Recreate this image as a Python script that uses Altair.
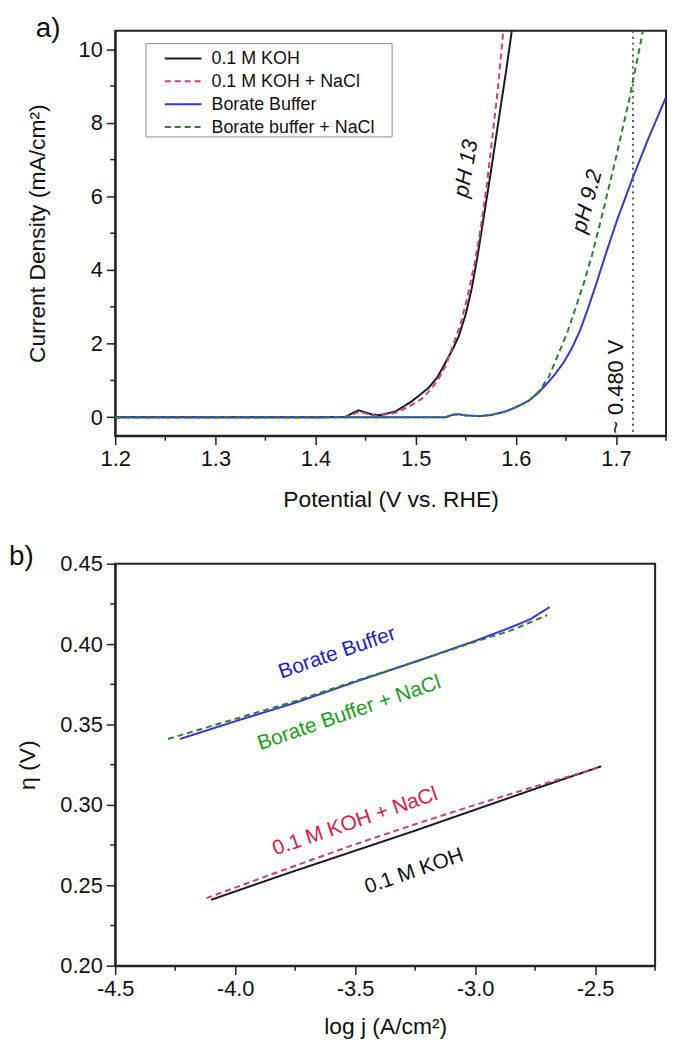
import altair as alt
import pandas as pd

# ---------------- Panel a: polarisation curves ----------------
koh_x = [1.20, 1.30, 1.40, 1.430, 1.436, 1.443, 1.450, 1.457, 1.465, 1.480, 1.496, 1.513, 1.522, 1.530, 1.537, 1.543, 1.550, 1.556, 1.561, 1.566, 1.575, 1.583, 1.590, 1.596]
koh_y = [0.00, 0.00, 0.00, 0.01, 0.10, 0.19, 0.13, 0.07, 0.06, 0.16, 0.43, 0.80, 1.10, 1.50, 1.85, 2.20, 2.80, 3.50, 4.25, 5.10, 6.65, 8.10, 9.35, 10.50]

kohnacl_x = [1.20, 1.30, 1.40, 1.430, 1.437, 1.444, 1.451, 1.460, 1.480, 1.494, 1.506, 1.515, 1.523, 1.530, 1.536, 1.545, 1.552, 1.559, 1.565, 1.571, 1.577, 1.582, 1.5875]
kohnacl_y = [0.00, 0.00, 0.00, 0.01, 0.08, 0.15, 0.10, 0.04, 0.12, 0.30, 0.50, 0.75, 1.05, 1.40, 1.85, 2.55, 3.30, 4.20, 5.15, 6.30, 7.70, 8.90, 10.50]

borate_x = [1.20, 1.30, 1.40, 1.50, 1.530, 1.537, 1.543, 1.550, 1.563, 1.575, 1.590, 1.600, 1.613, 1.623, 1.633, 1.640, 1.648, 1.656, 1.664, 1.672, 1.680, 1.690, 1.701, 1.716, 1.732, 1.750]
borate_y = [0.00, 0.00, 0.00, 0.00, 0.00, 0.07, 0.08, 0.05, 0.03, 0.06, 0.16, 0.27, 0.45, 0.68, 0.97, 1.20, 1.50, 1.88, 2.35, 2.95, 3.60, 4.45, 5.35, 6.45, 7.55, 8.70]

boratenacl_x = [1.20, 1.30, 1.40, 1.50, 1.530, 1.537, 1.543, 1.550, 1.563, 1.575, 1.590, 1.600, 1.613, 1.623, 1.633, 1.643, 1.652, 1.660, 1.668, 1.676, 1.684, 1.692, 1.700, 1.713, 1.727]
boratenacl_y = [0.00, 0.00, 0.00, 0.00, 0.00, 0.07, 0.08, 0.05, 0.03, 0.06, 0.16, 0.27, 0.45, 0.70, 1.10, 1.75, 2.35, 3.00, 3.65, 4.40, 5.25, 6.15, 7.05, 8.60, 10.50]

series_a = ["0.1 M KOH", "0.1 M KOH + NaCl", "Borate Buffer", "Borate buffer + NaCl"]
marker_line_x = [1.717]

xa_ticks = [1.2, 1.3, 1.4, 1.5, 1.6, 1.7]
xa_minor = [1.25, 1.35, 1.45, 1.55, 1.65, 1.75]
ya_ticks = [0, 2, 4, 6, 8, 10]
ya_minor = [1, 3, 5, 7, 9]

ann_a_text = ["pH 13", "pH 9.2", "~ 0.480 V"]
ann_a_x = [1.550, 1.671, 1.700]
ann_a_y = [6.76, 5.87, 0.83]

# ---------------- Panel b: Tafel plots ----------------
b_koh_x = [-4.10, -3.80, -3.50, -3.25, -3.00, -2.75, -2.475]
b_koh_y = [0.241, 0.2565, 0.2715, 0.284, 0.297, 0.310, 0.324]
b_kohnacl_x = [-4.12, -3.80, -3.50, -3.25, -3.00, -2.75, -2.49]
b_kohnacl_y = [0.242, 0.2595, 0.2755, 0.288, 0.300, 0.3115, 0.323]
b_borate_x = [-4.23, -4.00, -3.75, -3.50, -3.25, -3.00, -2.85, -2.77, -2.69]
b_borate_y = [0.341, 0.352, 0.3635, 0.3765, 0.389, 0.402, 0.4105, 0.4155, 0.423]
b_boratenacl_x = [-4.28, -4.00, -3.75, -3.50, -3.25, -3.00, -2.85, -2.70]
b_boratenacl_y = [0.341, 0.3535, 0.3645, 0.377, 0.389, 0.4015, 0.4085, 0.418]

xb_ticks = [-4.5, -4.0, -3.5, -3.0, -2.5]
xb_minor = [-4.25, -3.75, -3.25, -2.75, -2.25]
yb_ticks = [0.20, 0.25, 0.30, 0.35, 0.40, 0.45]
yb_minor = [0.225, 0.275, 0.325, 0.375, 0.425]

ann_b_text = ["Borate Buffer", "Borate Buffer + NaCl", "0.1 M KOH + NaCl", "0.1 M KOH"]
ann_b_x = [-3.575, -3.525, -3.50, -3.254]
ann_b_y = [0.3944, 0.357, 0.2895, 0.2586]

# ---------------- styles ----------------
FONT = "Liberation Sans"
colors = ["#1a1a1a", "#c8407f", "#3434e6", "#2f7f2f"]
dashes = [[1, 0], [6, 4], [1, 0], [6, 4]]
ann_b_colors = ["#1a1ae0", "#18a018", "#e0184a", "#111111"]

W_A, H_A = 555, 408
W_B, H_B = 544, 405


def make_df(xs_list, ys_list, names):
    rows = []
    for xs, ys, n in zip(xs_list, ys_list, names):
        for i, (x, y) in enumerate(zip(xs, ys)):
            rows.append({"x": x, "y": y, "series": n, "i": i})
    return pd.DataFrame(rows)


df_a = make_df([koh_x, kohnacl_x, borate_x, boratenacl_x],
               [koh_y, kohnacl_y, borate_y, boratenacl_y], series_a)
df_b = make_df([b_koh_x, b_kohnacl_x, b_borate_x, b_boratenacl_x],
               [b_koh_y, b_kohnacl_y, b_borate_y, b_boratenacl_y], series_a)

sxa = alt.Scale(domain=[1.2, 1.75], nice=False, zero=False)
sya = alt.Scale(domain=[-0.5, 10.5], nice=False, zero=False)
sxb = alt.Scale(domain=[-4.5, -2.25], nice=False, zero=False)
syb = alt.Scale(domain=[0.20, 0.45], nice=False, zero=False)

minus_fix = "datum.value < 0 ? '-' + format(-datum.value, '.1f') : format(datum.value, '.1f')"

# shared axis objects (reused by every layer so they merge cleanly)
axa_x = alt.Axis(values=xa_ticks, format=".1f", title="Potential (V vs. RHE)",
                 titleX=W_A / 2, titleY=53)
axa_y = alt.Axis(values=ya_ticks, format="d", title="Current Density (mA/cm²)",
                 titleX=-66, titleY=H_A / 2)
axb_x = alt.Axis(values=xb_ticks, labelExpr=minus_fix, title="log j (A/cm²)",
                 titleX=W_B / 2, titleY=50)
axb_y = alt.Axis(values=yb_ticks, format=".2f", title="η (V)",
                 titleX=-76, titleY=H_B / 2)

color_scale = alt.Scale(domain=series_a, range=colors)
dash_scale = alt.Scale(domain=series_a, range=dashes)

# ---- panel a layers ----
lines_a = alt.Chart(df_a).mark_line(strokeWidth=2, clip=True).encode(
    x=alt.X("x:Q", scale=sxa, axis=axa_x),
    y=alt.Y("y:Q", scale=sya, axis=axa_y),
    color=alt.Color("series:N", scale=color_scale, legend=None),
    strokeDash=alt.StrokeDash("series:N", scale=dash_scale, legend=None),
    order="i:Q",
)

vline_a = alt.Chart(pd.DataFrame({"x": marker_line_x})).mark_rule(
    color="#4f5f5f", strokeWidth=2, strokeDash=[2, 4]).encode(
    x=alt.X("x:Q", scale=sxa, axis=axa_x))

minor_ya = alt.Chart(pd.DataFrame({"v": ya_minor})).mark_rule(
    color="#222", strokeWidth=1.5).encode(
    y=alt.Y("v:Q", scale=sya, axis=axa_y), x=alt.value(0), x2=alt.value(-5))
minor_xa = alt.Chart(pd.DataFrame({"v": xa_minor})).mark_rule(
    color="#222", strokeWidth=1.5).encode(
    x=alt.X("v:Q", scale=sxa, axis=axa_x), y=alt.value(H_A), y2=alt.value(H_A + 5))

texts_a = []
angles_a = [280, 285, 270]
styles_a = ["italic", "italic", "normal"]
for t, x, y, ang, st in zip(ann_a_text, ann_a_x, ann_a_y, angles_a, styles_a):
    texts_a.append(
        alt.Chart(pd.DataFrame({"t": [t], "x": [x], "y": [y]})).mark_text(
            angle=ang, fontSize=22, fontStyle=st, font=FONT, color="#111",
            align="center", baseline="middle").encode(
            x=alt.X("x:Q", scale=sxa, axis=axa_x),
            y=alt.Y("y:Q", scale=sya, axis=axa_y), text="t:N"))

# manual legend box (pixel positions inside panel a)
legend_box = alt.Chart(pd.DataFrame({"k": [0]})).mark_rect(
    fill="white", stroke="#8a8a8a", strokeWidth=1).encode(
    x=alt.value(31), x2=alt.value(279), y=alt.value(13), y2=alt.value(107))
legend_layers = [legend_box]
for k, name in enumerate(series_a):
    yy = 28 + 23 * k
    legend_layers.append(
        alt.Chart(pd.DataFrame({"s": [name]})).mark_rule(
            color=colors[k], strokeWidth=2, strokeDash=dashes[k]).encode(
            x=alt.value(50), x2=alt.value(87), y=alt.value(yy)))
    legend_layers.append(
        alt.Chart(pd.DataFrame({"s": [name]})).mark_text(
            fontSize=18, font=FONT, color="#111", align="left", baseline="middle").encode(
            x=alt.value(97), y=alt.value(yy + 1), text="s:N"))

label_a = alt.Chart(pd.DataFrame({"t": ["a)"]})).mark_text(
    fontSize=28, font=FONT, color="#111", align="left", baseline="middle").encode(
    x=alt.value(-80), y=alt.value(-2), text="t:N")

panel_a = alt.layer(lines_a, vline_a, minor_ya, minor_xa, *texts_a,
                    *legend_layers, label_a).properties(width=W_A, height=H_A)

# ---- panel b layers ----
lines_b = alt.Chart(df_b).mark_line(strokeWidth=2, clip=True).encode(
    x=alt.X("x:Q", scale=sxb, axis=axb_x),
    y=alt.Y("y:Q", scale=syb, axis=axb_y),
    color=alt.Color("series:N", scale=color_scale, legend=None),
    strokeDash=alt.StrokeDash("series:N", scale=dash_scale, legend=None),
    order="i:Q",
)

minor_yb = alt.Chart(pd.DataFrame({"v": yb_minor})).mark_rule(
    color="#222", strokeWidth=1.5).encode(
    y=alt.Y("v:Q", scale=syb, axis=axb_y), x=alt.value(0), x2=alt.value(-5))
minor_xb = alt.Chart(pd.DataFrame({"v": xb_minor})).mark_rule(
    color="#222", strokeWidth=1.5).encode(
    x=alt.X("v:Q", scale=sxb, axis=axb_x), y=alt.value(H_B), y2=alt.value(H_B + 5))

texts_b = []
for t, x, y, c in zip(ann_b_text, ann_b_x, ann_b_y, ann_b_colors):
    texts_b.append(
        alt.Chart(pd.DataFrame({"t": [t], "x": [x], "y": [y]})).mark_text(
            angle=341, fontSize=21, font=FONT, color=c,
            align="center", baseline="middle").encode(
            x=alt.X("x:Q", scale=sxb, axis=axb_x),
            y=alt.Y("y:Q", scale=syb, axis=axb_y), text="t:N"))

label_b = alt.Chart(pd.DataFrame({"t": ["b)"]})).mark_text(
    fontSize=28, font=FONT, color="#111", align="left", baseline="middle").encode(
    x=alt.value(-107), y=alt.value(-7), text="t:N")

panel_b = alt.layer(lines_b, minor_yb, minor_xb, *texts_b, label_b).properties(
    width=W_B, height=H_B)

chart = alt.vconcat(panel_a, panel_b, spacing=30).resolve_scale(
    color="independent", strokeDash="independent"
).properties(
    padding={"left": 0, "top": 2, "right": 4, "bottom": 0}
).configure(font=FONT).configure_axis(
    labelFontSize=22, titleFontSize=23, titleFontWeight="normal",
    labelFont=FONT, titleFont=FONT, labelFlush=False,
    labelColor="#111", titleColor="#111", domainColor="#222", domainWidth=2,
    tickColor="#222", tickWidth=1.5, tickSize=9, labelPadding=4, grid=False,
).configure_view(stroke="#222", strokeWidth=2)

chart.save("out.html", embed_options={"renderer": "svg", "actions": False})
